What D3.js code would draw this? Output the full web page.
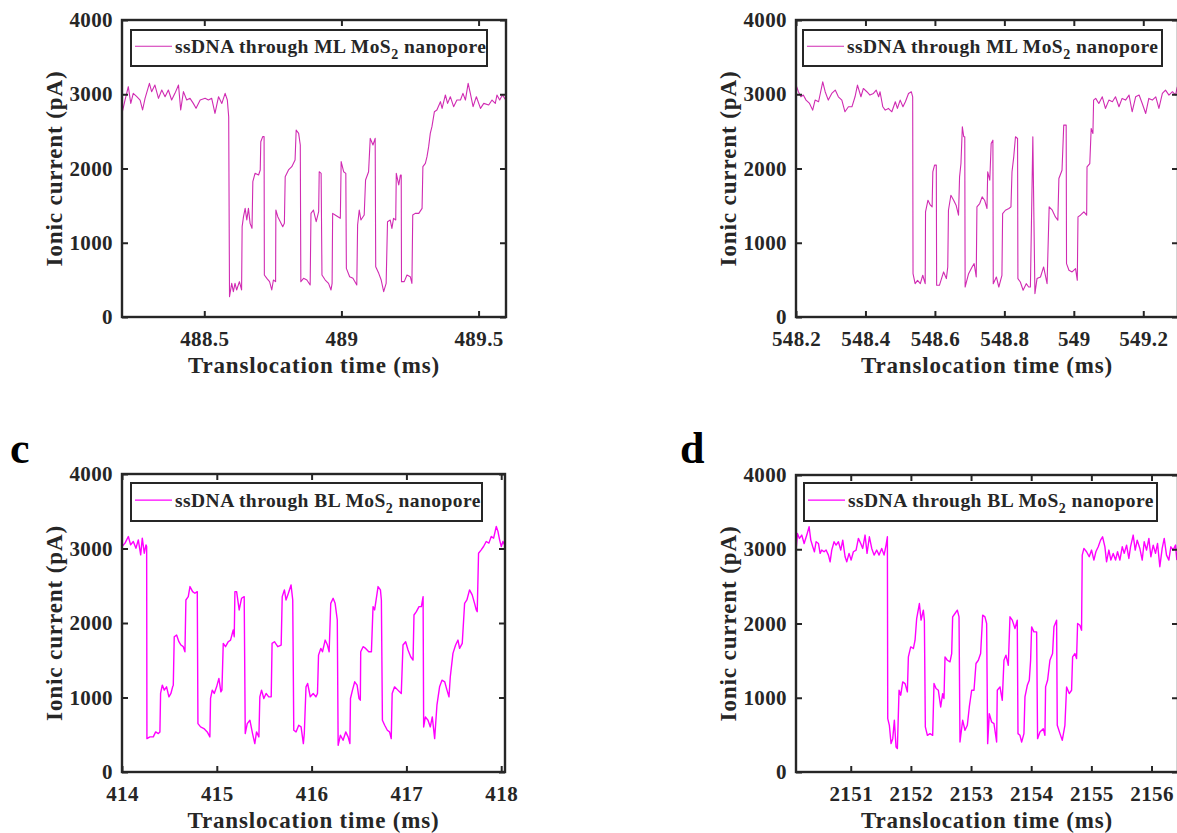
<!DOCTYPE html>
<html><head><meta charset="utf-8">
<script src="https://cdn.jsdelivr.net/npm/d3@7/dist/d3.min.js"></script>
<style>
body{margin:0;background:#fff}
svg{display:block}
text{font-family:"Liberation Serif","Times New Roman",serif;font-weight:bold;fill:#262626}
</style></head>
<body><svg id="fig" width="1177" height="833"></svg>
<script>
// ---------- data ----------
const yTicks = [0, 1000, 2000, 3000, 4000];
const aTicks = [488.5, 489, 489.5];
const bTicks = [548.2, 548.4, 548.6, 548.8, 549, 549.2];
const cTicks = [414, 415, 416, 417, 418];
const dTicks = [2151, 2152, 2153, 2154, 2155, 2156];
const legendTop = "ssDNA through ML MoS";
const legendBottom = "ssDNA through BL MoS";

const aTime = [488.200,488.211,488.223,488.232,488.241,488.254,488.266,488.275,488.284,488.300,
488.308,488.320,488.333,488.345,488.357,488.369,488.381,488.393,488.406,488.414,
488.424,488.436,488.448,488.460,488.470,488.485,488.503,488.515,488.527,488.539,
488.552,488.564,488.576,488.584,488.589,488.592,488.600,488.606,488.612,488.618,
488.628,488.636,488.638,488.643,488.649,488.655,488.661,488.667,488.674,488.677,
488.685,488.698,488.704,488.706,488.713,488.718,488.719,488.728,488.738,488.746,
488.752,488.760,488.761,488.768,488.777,488.786,488.792,488.795,488.807,488.819,
488.831,488.835,488.844,488.850,488.852,488.862,488.874,488.886,488.889,488.898,
488.908,488.917,488.919,488.926,488.929,488.941,488.953,488.962,488.966,488.968,
488.977,488.996,488.999,489.008,489.016,489.018,489.030,489.042,489.056,489.059,
489.065,489.071,489.083,489.088,489.099,489.105,489.115,489.123,489.125,489.136,
489.145,489.154,489.163,489.168,489.178,489.184,489.190,489.198,489.200,489.209,
489.215,489.218,489.219,489.229,489.239,489.251,489.257,489.260,489.269,489.282,
489.294,489.297,489.306,489.312,489.318,489.324,489.330,489.339,489.348,489.361,
489.367,489.379,489.387,489.397,489.409,489.421,489.434,489.443,489.452,489.462,
489.470,489.480,489.492,489.507,489.519,489.537,489.549,489.561,489.567,489.577,
489.587,489.599];
const aCurrent = [2743,2922,3102,2877,3012,2967,2922,2788,2945,3147,
3035,3124,2945,3057,2967,3057,2922,3012,3124,2788,
3035,2922,2945,2877,2810,2922,2945,2922,2945,2743,
2967,2877,3012,2922,2698,274,453,341,453,364,
476,364,1217,1351,1463,1306,1463,1261,1194,1823,
1935,1912,1980,2361,2429,2429,566,521,476,364,
498,476,1441,1351,1284,1217,1261,1890,1980,2025,
2114,2518,2473,2316,476,521,498,431,1396,1441,
1284,1418,1957,1935,566,498,453,364,453,1396,
1374,1329,2092,1957,1935,655,543,521,431,1239,
1441,1306,1374,1845,1957,2406,2316,2406,678,588,
498,341,453,1284,1306,1194,1329,1306,1935,1778,
1912,1912,476,476,566,543,453,1374,1396,1396,
1463,2025,2070,2159,2294,2473,2563,2765,2788,2900,
2810,2990,2877,2967,2833,2922,2922,3012,2922,3147,
3012,2833,2967,2810,2877,2855,2922,2877,2990,2922,
2990,2922];

const bTime = [548.200,548.207,548.214,548.221,548.229,548.239,548.248,548.255,548.265,548.277,
548.284,548.293,548.303,548.313,548.322,548.332,548.341,548.351,548.361,548.370,
548.377,548.387,548.394,548.404,548.413,548.423,548.431,548.438,548.442,548.450,
548.457,548.466,548.476,548.486,548.492,548.500,548.508,548.515,548.524,548.532,
548.536,548.537,548.543,548.550,548.558,548.565,548.572,548.573,548.580,548.587,
548.592,548.594,548.599,548.604,548.605,548.613,548.625,548.633,548.637,548.639,
548.646,548.654,548.661,548.668,548.671,548.675,548.679,548.683,548.686,548.687,
548.697,548.707,548.713,548.719,548.721,548.729,548.736,548.743,548.750,548.752,
548.758,548.762,548.767,548.768,548.777,548.784,548.793,548.795,548.803,548.813,
548.819,548.822,548.827,548.832,548.838,548.839,548.846,548.854,548.863,548.870,
548.875,548.882,548.888,548.894,548.904,548.913,548.923,548.929,548.938,548.947,
548.954,548.957,548.966,548.971,548.978,548.979,548.986,548.995,549.005,549.010,
549.012,549.019,549.029,549.037,549.038,549.046,549.050,549.055,549.057,549.063,
549.072,549.082,549.091,549.101,549.111,549.120,549.130,549.139,549.149,549.159,
549.168,549.178,549.188,549.197,549.207,549.216,549.226,549.236,549.245,549.255,
549.264,549.274,549.284,549.293,549.298];
const bCurrent = [3124,3034,2966,2989,2921,2876,2786,2921,2899,3168,
3034,2921,3011,3056,2966,2921,2764,2831,2831,2966,
3124,2966,3078,3034,2989,3011,3056,2966,3034,2831,
2786,2809,2764,2899,2809,2921,2831,2899,3011,3034,
2966,584,449,494,449,562,449,1416,1573,1506,
1483,1955,2045,2045,427,427,607,517,674,1438,
1640,1573,1506,1371,1887,2067,2562,2427,2427,404,
584,674,719,539,1483,1528,1618,1573,1461,1955,
1842,2337,2382,449,539,404,562,1393,1438,1461,
1483,1955,2157,2427,2404,517,472,360,449,404,
404,2427,315,517,539,674,449,1483,1438,1348,
1303,1865,1977,2584,2584,719,629,607,652,494,
1348,1371,1416,1371,2022,2067,2539,2472,2921,2944,
2876,2966,2809,2921,2899,2966,2831,2944,2921,2989,
2764,2966,2989,2876,2741,2944,2921,2966,2809,3011,
3056,2989,3034,2989,3101];

const cTime = [414.000,414.032,414.067,414.091,414.119,414.147,414.172,414.197,414.214,414.235,
414.253,414.260,414.263,414.295,414.330,414.355,414.383,414.400,414.407,414.425,
414.446,414.470,414.495,414.516,414.534,414.541,414.551,414.576,414.600,414.622,
414.646,414.664,414.674,414.699,414.717,414.745,414.769,414.794,414.801,414.829,
414.864,414.899,414.927,414.934,414.952,414.973,414.998,415.022,415.043,415.054,
415.068,415.092,415.121,415.145,415.173,415.184,415.191,415.209,415.236,415.261,
415.289,415.300,415.321,415.349,415.377,415.401,415.419,415.444,415.454,415.472,
415.496,415.520,415.548,415.574,415.583,415.608,415.643,415.679,415.690,415.713,
415.730,415.755,415.783,415.801,415.812,415.836,415.864,415.889,415.913,415.923,
415.941,415.958,415.986,416.017,416.045,416.062,416.073,416.097,416.115,416.143,
416.167,416.185,416.202,416.227,416.248,416.271,416.280,416.304,416.332,416.360,
416.385,416.404,416.410,416.431,416.455,416.480,416.500,416.514,416.518,416.543,
416.570,416.603,416.631,416.648,416.665,416.701,416.726,416.736,416.747,416.771,
416.799,416.822,416.840,416.850,416.875,416.910,416.946,416.964,416.992,417.017,
417.045,417.070,417.080,417.105,417.133,417.158,417.176,417.182,417.200,417.228,
417.252,417.273,417.298,417.322,417.350,417.375,417.404,417.428,417.449,417.463,
417.491,417.519,417.544,417.561,417.589,417.614,417.638,417.666,417.694,417.719,
417.737,417.747,417.761,417.789,417.814,417.842,417.870,417.895,417.920,417.948,
417.966,417.983,418.001,418.018,418.036];
const cCurrent = [3027,3072,3161,3049,3094,3004,3116,2915,3139,2937,
3049,3027,448,471,471,538,516,538,1054,1166,
1099,1143,1009,1054,1143,1166,1816,1838,1749,1704,
1682,1614,2309,2354,2489,2421,2399,2421,650,605,
583,538,471,987,1099,1054,1143,1256,1076,1099,
1726,1682,1749,1771,1906,1816,2421,2421,2175,2332,
2354,516,650,695,516,381,538,471,1009,1099,
987,1054,1009,1009,1726,1749,1682,1704,2354,2444,
2309,2399,2511,2309,560,538,628,605,381,516,
1143,1188,1009,1054,1009,1054,1569,1659,1614,1771,
1704,1614,2264,2332,2264,2040,359,493,426,538,
471,381,987,1099,1211,1166,987,964,1614,1682,
1659,1614,1614,2220,2175,2489,2444,2309,695,628,
560,538,448,1054,1143,1099,1054,1704,1749,1637,
1547,1502,2107,2152,2220,2220,2354,605,740,695,
605,740,448,897,1143,1233,1211,1099,1009,1278,
1592,1704,1771,1659,1726,2264,2309,2444,2377,2264,
2175,2152,2937,2982,3027,3094,3072,3161,3139,3296,
3228,3116,3027,3094,3049];

const dTime = [2150.092,2150.114,2150.147,2150.186,2150.225,2150.269,2150.308,2150.336,2150.369,2150.396,
2150.424,2150.463,2150.491,2150.518,2150.557,2150.590,2150.629,2150.657,2150.684,2150.723,
2150.756,2150.795,2150.834,2150.867,2150.906,2150.934,2150.972,2151.006,2151.044,2151.089,
2151.127,2151.166,2151.199,2151.238,2151.271,2151.310,2151.349,2151.388,2151.432,2151.471,
2151.515,2151.554,2151.587,2151.609,2151.615,2151.642,2151.670,2151.698,2151.725,2151.753,
2151.775,2151.803,2151.831,2151.864,2151.903,2151.941,2151.958,2151.997,2152.041,2152.069,
2152.096,2152.141,2152.169,2152.207,2152.224,2152.240,2152.274,2152.318,2152.362,2152.384,
2152.418,2152.456,2152.495,2152.528,2152.550,2152.567,2152.606,2152.650,2152.678,2152.694,
2152.733,2152.772,2152.800,2152.816,2152.860,2152.899,2152.938,2152.971,2153.010,2153.049,
2153.082,2153.121,2153.159,2153.193,2153.231,2153.259,2153.276,2153.303,2153.342,2153.381,
2153.425,2153.436,2153.481,2153.519,2153.547,2153.580,2153.619,2153.647,2153.685,2153.730,
2153.768,2153.780,2153.813,2153.841,2153.879,2153.896,2153.935,2153.968,2153.990,2154.007,
2154.045,2154.090,2154.106,2154.145,2154.200,2154.228,2154.239,2154.272,2154.311,2154.355,
2154.378,2154.422,2154.433,2154.478,2154.516,2154.560,2154.588,2154.632,2154.671,2154.688,
2154.726,2154.754,2154.771,2154.809,2154.837,2154.848,2154.876,2154.920,2154.964,2155.003,
2155.042,2155.075,2155.114,2155.153,2155.186,2155.225,2155.252,2155.291,2155.324,2155.363,
2155.402,2155.435,2155.474,2155.513,2155.546,2155.585,2155.623,2155.651,2155.695,2155.729,
2155.762,2155.806,2155.845,2155.878,2155.917,2155.956,2155.989,2156.028,2156.066,2156.100,
2156.138,2156.177,2156.211,2156.249,2156.288,2156.321,2156.360,2156.399,2156.421];
const dCurrent = [2989,3213,3146,3191,3078,3191,3303,3123,3033,2966,
3101,3078,2944,2989,2966,2989,2921,2831,2989,3101,
3056,3101,2989,3123,2899,2831,2944,2854,2966,2989,
3146,3078,3011,3191,2944,3168,3011,2921,2989,2921,
3011,2921,3056,3168,719,629,382,449,697,337,
315,1101,1034,1213,1191,1079,1550,1685,1663,1775,
2067,2269,2045,2180,2045,607,494,517,494,1191,
1124,1101,876,1056,989,1550,1505,1483,1595,2090,
2135,2180,2090,404,697,562,629,876,1101,1101,
1461,1505,1595,2112,2090,2000,382,786,674,652,
404,1101,1146,966,1505,1573,1438,2090,2045,1932,
2045,517,494,404,517,1011,1168,1236,1505,1955,
1887,1887,449,539,584,494,1146,1236,1505,1595,
1955,2045,629,517,427,629,1146,1056,1101,1550,
1595,1528,2000,1977,1910,2921,3011,2966,2899,2989,
2854,2966,3033,3123,3168,3033,2831,2989,2854,2944,
2854,2966,2854,3033,2944,3056,2876,3033,3191,2989,
3123,3011,2854,3101,2989,3146,2899,3056,2944,3078,
2764,3011,3146,2921,2854,3033,2989,3056,2854];

// ---------- drawing ----------
const svg = d3.select("#fig");
const AX = "#262626";
const fmt = d => String(+d.toFixed(4));

const panels = [
  {key:"a", time:aTime, cur:aCurrent, xd:[488.2,489.6], ticks:aTicks, L:122, R:506, T:20, B:317, color:"#d02bb2", lw:1.1, leg:legendTop, lg:[131,487,30,66]},
  {key:"b", time:bTime, cur:bCurrent, xd:[548.2,549.3], ticks:bTicks, L:796, R:1178, T:20, B:317, color:"#d02bb2", lw:1.1, leg:legendTop, lg:[803,1162,30,66]},
  {key:"c", time:cTime, cur:cCurrent, xd:[414,418.04], ticks:cTicks, L:122, R:505, T:474, B:772, color:"#ff00ff", lw:1.4, leg:legendBottom, lg:[131,482,483,521]},
  {key:"d", time:dTime, cur:dCurrent, xd:[2150.09,2156.44], ticks:dTicks, L:796, R:1178, T:475, B:772, color:"#ff00ff", lw:1.4, leg:legendBottom, lg:[804,1157,483,521]}
];

panels.forEach(p => {
  const x = d3.scaleLinear().domain(p.xd).range([p.L, p.R]);
  const y = d3.scaleLinear().domain([0, 4000]).range([p.B, p.T]);
  const g = svg.append("g");

  g.append("clipPath").attr("id", "clip-" + p.key)
    .append("rect").attr("x", p.L).attr("y", p.T).attr("width", p.R - p.L).attr("height", p.B - p.T);

  const pts = d3.zip(p.time, p.cur);
  g.append("path").datum(pts)
    .attr("clip-path", `url(#clip-${p.key})`)
    .attr("fill", "none").attr("stroke", p.color).attr("stroke-width", p.lw)
    .attr("stroke-linejoin", "round")
    .attr("d", d3.line().x(d => x(d[0])).y(d => y(d[1])));

  const styleAxis = sel => {
    sel.select(".domain").remove();
    sel.selectAll(".tick line").attr("stroke", AX).attr("stroke-width", 2);
    sel.selectAll(".tick text").attr("fill", AX).style("font-size", "21px")
      .style("letter-spacing", "0.4px")
      .style("font-family", '"Liberation Serif","Times New Roman",serif').style("font-weight", "bold");
  };
  g.append("g").attr("transform", `translate(0,${p.B})`)
    .call(d3.axisBottom(x).tickValues(p.ticks).tickFormat(fmt).tickSizeInner(-6).tickSizeOuter(0).tickPadding(14))
    .call(styleAxis);
  g.append("g").attr("transform", `translate(0,${p.T})`)
    .call(d3.axisTop(x).tickValues(p.ticks).tickFormat("").tickSizeInner(-6).tickSizeOuter(0))
    .call(styleAxis);
  g.append("g").attr("transform", `translate(${p.L},0)`)
    .call(d3.axisLeft(y).tickValues(yTicks).tickFormat(d3.format("d")).tickSizeInner(-6).tickSizeOuter(0).tickPadding(9))
    .call(styleAxis);
  g.append("g").attr("transform", `translate(${p.R},0)`)
    .call(d3.axisRight(y).tickValues(yTicks).tickFormat("").tickSizeInner(-6).tickSizeOuter(0))
    .call(styleAxis);

  g.append("rect").attr("x", p.L).attr("y", p.T).attr("width", p.R - p.L).attr("height", p.B - p.T)
    .attr("fill", "none").attr("stroke", AX).attr("stroke-width", 2.4);

  // axis titles
  g.append("text").attr("x", (p.L + p.R) / 2).attr("y", p.B + 56)
    .attr("text-anchor", "middle").style("font-size", "23px").style("letter-spacing", "0.8px")
    .text("Translocation time (ms)");
  g.append("text").attr("transform", `translate(${p.L - 68},${(p.T + p.B) / 2}) rotate(-90)`)
    .attr("text-anchor", "middle").attr("dy", "0.35em").style("font-size", "23px").style("letter-spacing", "0.9px")
    .text("Ionic current (pA)");

  // legend
  const [lx0, lx1, ly0, ly1] = p.lg;
  g.append("rect").attr("x", lx0).attr("y", ly0).attr("width", lx1 - lx0).attr("height", ly1 - ly0)
    .attr("fill", "#fff").attr("stroke", AX).attr("stroke-width", 2);
  const ly = ly0 + (ly1 - ly0) * 0.45;
  g.append("line").attr("x1", lx0 + 4).attr("x2", lx0 + 41).attr("y1", ly).attr("y2", ly)
    .attr("stroke", p.color).attr("stroke-width", p.lw);
  const t = g.append("text").attr("x", lx0 + 44).attr("y", ly + 6.5)
    .style("font-size", "19.5px").style("letter-spacing", "0.45px");
  t.append("tspan").text(p.leg);
  t.append("tspan").attr("dy", 6).style("font-size", "14px").text("2");
  t.append("tspan").attr("dy", -6).text(" nanopore");
});

// panel letters
svg.append("text").attr("x", 10).attr("y", 463).style("font-size", "44px").style("fill", "#000").text("c");
svg.append("text").attr("x", 680).attr("y", 463).style("font-size", "44px").style("fill", "#000").text("d");
</script>
</body></html>
